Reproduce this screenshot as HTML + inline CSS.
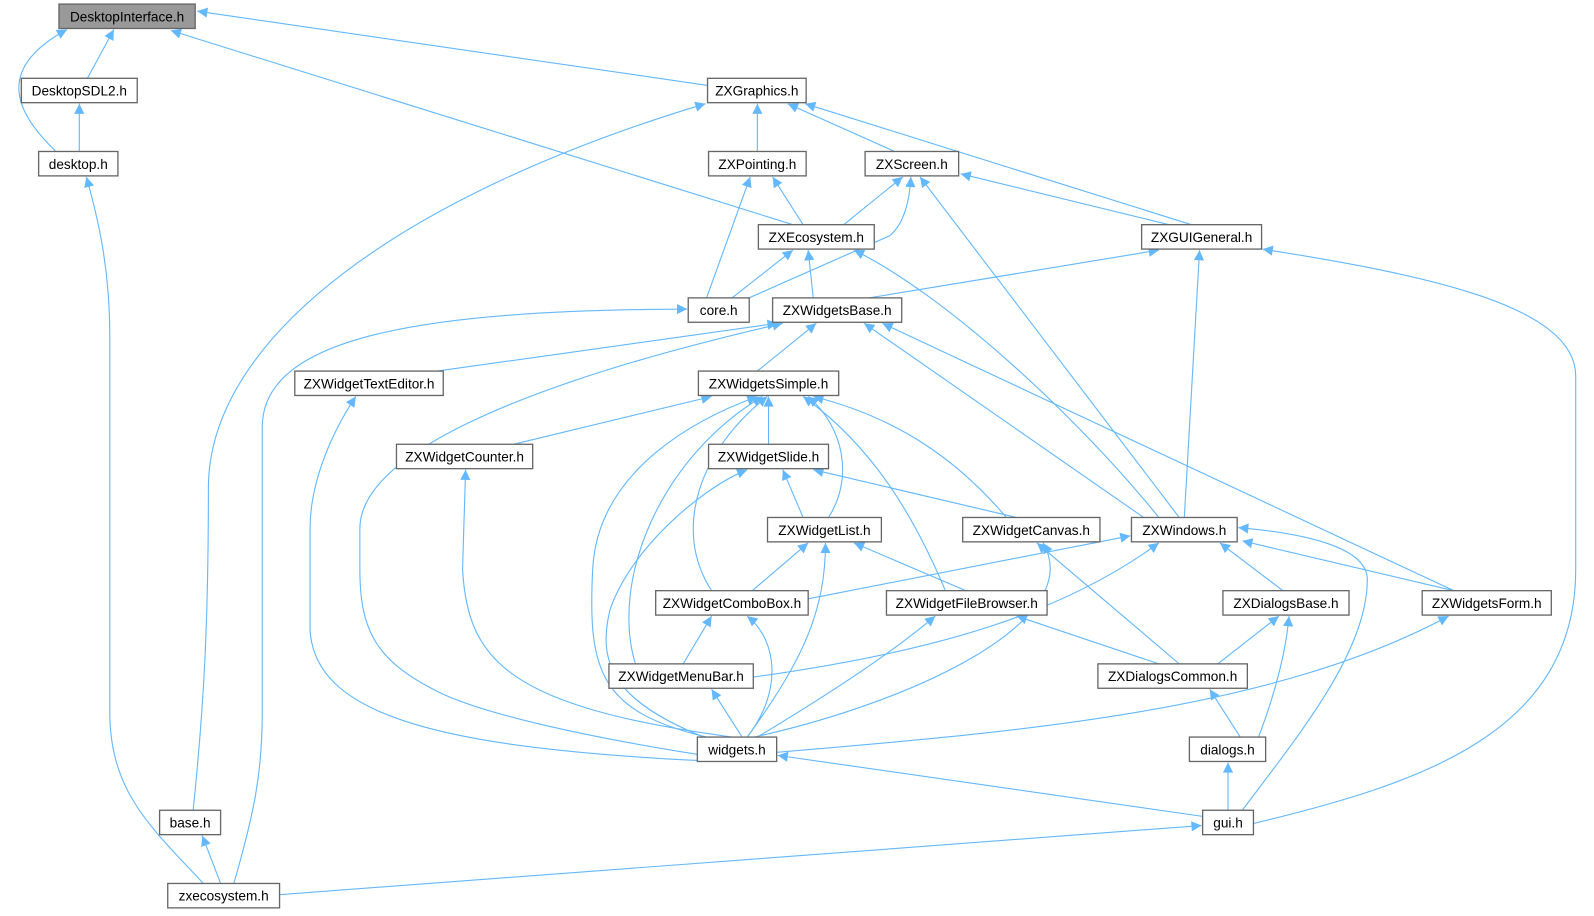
<!DOCTYPE html>
<html><head><meta charset="utf-8"><style>
html,body{margin:0;padding:0;background:#fff;}
svg{display:block;}
text{font-family:"Liberation Sans",Arial,sans-serif;font-size:13.4px;fill:#000;text-anchor:middle;}
.e{fill:none;stroke:#63b8ff;stroke-width:1.1;marker-end:url(#a);}
.n{fill:#fff;stroke:#666;stroke-width:1.3;}
</style></head><body>
<svg width="1594" height="916" viewBox="0 0 1568 901" preserveAspectRatio="none" xmlns="http://www.w3.org/2000/svg">
<defs><marker id="a" viewBox="0 0 10 10" refX="10" refY="5" markerWidth="13" markerHeight="10" markerUnits="userSpaceOnUse" orient="auto"><path d="M0,0 L10,5 L0,10 z" fill="#63b8ff"/></marker></defs>
<g>
<path class="e" d="M86,77 L112,29"/>
<path class="e" d="M55,149 C20,115 -10,70 66,29"/>
<path class="e" d="M696,84 L194,11"/>
<path class="e" d="M780,221 L168,30"/>
<path class="e" d="M200,869 C150,815 108,780 108,700 L108,330 C108,260 95,210 85,174"/>
<path class="e" d="M78,149 L78,102"/>
<path class="e" d="M190,797 C200,700 205,620 205,480 C205,330 400,190 694,102"/>
<path class="e" d="M745,149 L745,102"/>
<path class="e" d="M880,149 L775,102"/>
<path class="e" d="M1172,221 L792,102"/>
<path class="e" d="M790,221 L760,174"/>
<path class="e" d="M695,293 L738,174"/>
<path class="e" d="M830,221 L888,174"/>
<path class="e" d="M730,296 L875,232 C890,220 895,195 896,174"/>
<path class="e" d="M1150,221 L945,171"/>
<path class="e" d="M1160,509 L905,174"/>
<path class="e" d="M720,293 L780,246"/>
<path class="e" d="M800,293 L795,246"/>
<path class="e" d="M1140,509 C1060,410 930,290 840,246"/>
<path class="e" d="M855,293 L1140,246"/>
<path class="e" d="M1165,509 L1180,246"/>
<path class="e" d="M1233,810 C1400,770 1550,720 1550,560 L1550,370 C1550,300 1400,270 1242,245"/>
<path class="e" d="M230,869 C250,800 258,760 258,700 L258,420 C258,330 420,305 676,304"/>
<path class="e" d="M430,365 L765,318"/>
<path class="e" d="M745,365 L803,318"/>
<path class="e" d="M686,742 C560,722 470,700 430,680 C370,650 354,620 354,560 L354,520 C354,450 500,380 770,318"/>
<path class="e" d="M1125,509 L850,318"/>
<path class="e" d="M1430,581 L868,318"/>
<path class="e" d="M686,748 C420,735 310,700 305,620 L305,520 C305,470 330,420 350,390"/>
<path class="e" d="M505,437 L700,390"/>
<path class="e" d="M756,437 L756,390"/>
<path class="e" d="M815,509 C840,470 830,420 795,390"/>
<path class="e" d="M990,509 C940,450 880,410 800,390"/>
<path class="e" d="M700,581 C660,520 690,440 755,390"/>
<path class="e" d="M625,653 C600,570 650,450 750,390"/>
<path class="e" d="M695,725 C590,700 578,660 583,560 C588,460 690,410 745,390"/>
<path class="e" d="M930,581 C900,510 860,440 790,390"/>
<path class="e" d="M700,728 C600,690 588,650 600,600 C620,540 690,480 735,462"/>
<path class="e" d="M720,725 C500,695 460,650 455,560 L458,462"/>
<path class="e" d="M790,509 L770,462"/>
<path class="e" d="M1000,509 L800,462"/>
<path class="e" d="M740,581 L795,534"/>
<path class="e" d="M950,581 L840,534"/>
<path class="e" d="M735,725 C790,650 812,600 812,534"/>
<path class="e" d="M790,590 L1112,527"/>
<path class="e" d="M741,666 C930,640 1050,600 1140,534"/>
<path class="e" d="M1262,581 L1200,534"/>
<path class="e" d="M1430,581 L1222,532"/>
<path class="e" d="M1222,797 C1280,720 1345,640 1345,570 C1345,540 1290,525 1218,519"/>
<path class="e" d="M1160,653 L1020,534"/>
<path class="e" d="M742,725 C900,690 1070,610 1026,534"/>
<path class="e" d="M735,725 C770,680 765,630 735,606"/>
<path class="e" d="M672,653 L700,606"/>
<path class="e" d="M730,725 L700,678"/>
<path class="e" d="M745,725 C820,680 880,640 920,606"/>
<path class="e" d="M1140,653 L1000,606"/>
<path class="e" d="M1198,653 L1258,606"/>
<path class="e" d="M1238,725 C1255,680 1265,640 1268,606"/>
<path class="e" d="M764,740 C1000,720 1250,700 1425,606"/>
<path class="e" d="M1220,725 L1190,678"/>
<path class="e" d="M1208,797 L1208,750"/>
<path class="e" d="M1183,803 L765,743"/>
<path class="e" d="M275,880 L1182,812"/>
<path class="e" d="M217,869 L199,822"/>
</g>
<g>
<rect x="58" y="4" width="134" height="24" fill="#999" stroke="#666" stroke-width="1.3"/><text x="125" y="21">DesktopInterface.h</text>
<rect class="n" x="21" y="77" width="114" height="24"/><text x="78" y="94">DesktopSDL2.h</text>
<rect class="n" x="38" y="149" width="78" height="24"/><text x="77" y="166">desktop.h</text>
<rect class="n" x="696" y="77" width="97" height="24"/><text x="744.5" y="94">ZXGraphics.h</text>
<rect class="n" x="697" y="149" width="96" height="24"/><text x="745" y="166">ZXPointing.h</text>
<rect class="n" x="851" y="149" width="92" height="24"/><text x="897" y="166">ZXScreen.h</text>
<rect class="n" x="746" y="221" width="114" height="24"/><text x="803" y="238">ZXEcosystem.h</text>
<rect class="n" x="1123" y="221" width="118" height="24"/><text x="1182" y="238">ZXGUIGeneral.h</text>
<rect class="n" x="677" y="293" width="60" height="24"/><text x="707" y="310">core.h</text>
<rect class="n" x="760" y="293" width="127" height="24"/><text x="823.5" y="310">ZXWidgetsBase.h</text>
<rect class="n" x="290" y="365" width="146" height="24"/><text x="363" y="382">ZXWidgetTextEditor.h</text>
<rect class="n" x="687" y="365" width="138" height="24"/><text x="756" y="382">ZXWidgetsSimple.h</text>
<rect class="n" x="390" y="437" width="134" height="24"/><text x="457" y="454">ZXWidgetCounter.h</text>
<rect class="n" x="697" y="437" width="118" height="24"/><text x="756" y="454">ZXWidgetSlide.h</text>
<rect class="n" x="755" y="509" width="112" height="24"/><text x="811" y="526">ZXWidgetList.h</text>
<rect class="n" x="947" y="509" width="135" height="24"/><text x="1014.5" y="526">ZXWidgetCanvas.h</text>
<rect class="n" x="1113" y="509" width="104" height="24"/><text x="1165" y="526">ZXWindows.h</text>
<rect class="n" x="645" y="581" width="150" height="24"/><text x="720" y="598">ZXWidgetComboBox.h</text>
<rect class="n" x="872" y="581" width="158" height="24"/><text x="951" y="598">ZXWidgetFileBrowser.h</text>
<rect class="n" x="1203" y="581" width="124" height="24"/><text x="1265" y="598">ZXDialogsBase.h</text>
<rect class="n" x="1399" y="581" width="127" height="24"/><text x="1462.5" y="598">ZXWidgetsForm.h</text>
<rect class="n" x="599" y="653" width="142" height="24"/><text x="670" y="670">ZXWidgetMenuBar.h</text>
<rect class="n" x="1080" y="653" width="147" height="24"/><text x="1153.5" y="670">ZXDialogsCommon.h</text>
<rect class="n" x="686" y="725" width="78" height="24"/><text x="725" y="742">widgets.h</text>
<rect class="n" x="1170" y="725" width="75" height="24"/><text x="1207.5" y="742">dialogs.h</text>
<rect class="n" x="157" y="797" width="60" height="24"/><text x="187" y="814">base.h</text>
<rect class="n" x="1183" y="797" width="50" height="24"/><text x="1208" y="814">gui.h</text>
<rect class="n" x="165" y="869" width="110" height="24"/><text x="220" y="886">zxecosystem.h</text>
</g>
</svg>
</body></html>
